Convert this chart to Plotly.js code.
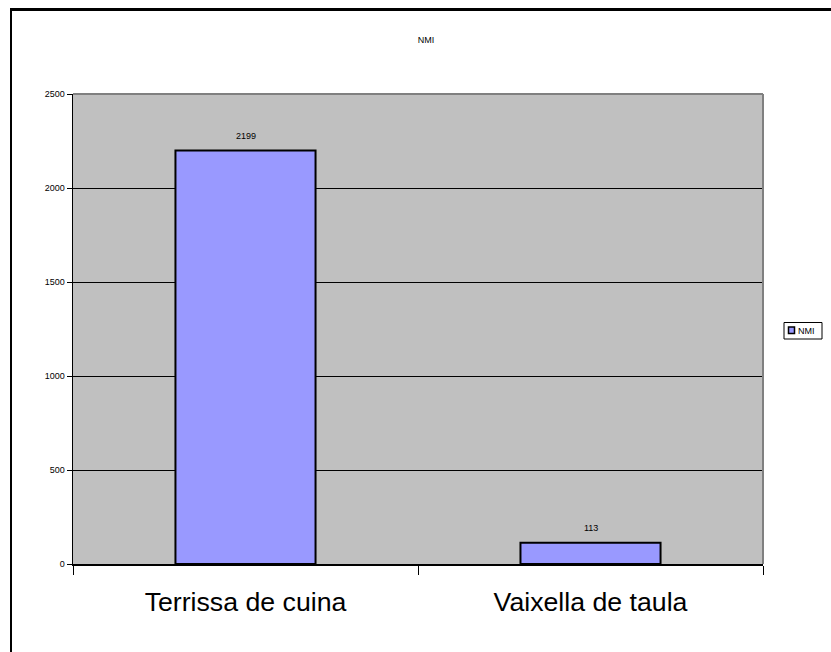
<!DOCTYPE html>
<html>
<head>
<meta charset="utf-8">
<script src="https://cdn.plot.ly/plotly-3.0.1.min.js"></script>
<style>
  html, body { margin: 0; padding: 0; background: #fff; }
  #chart { width: 831px; height: 652px; position: relative; }
  #frame { position: absolute; left: 10px; top: 8px; width: 900px; height: 800px;
           border-left: 2px solid #000; border-top: 3px solid #000; pointer-events: none; }
  #wrap { position: relative; width: 831px; height: 652px; overflow: hidden; }
</style>
</head>
<body>
<div id="wrap">
  <div id="chart"></div>
  <div id="frame"></div>
</div>
<script>
const categories = ["Terrissa de cuina", "Vaixella de taula"];
const seriesName = "NMI";
const values = [2199, 113];
const chartTitle = "NMI";
const yTickVals = [0, 500, 1000, 1500, 2000, 2500];

const FONT = "Liberation Sans, Arial, sans-serif";

const trace = {
  type: "bar",
  x: categories,
  y: values,
  name: seriesName,
  width: 0.406,
  marker: { color: "#9999FF", line: { color: "#000000", width: 2 } },
  showlegend: false,
  hoverinfo: "x+y"
};

const labelAnnotations = categories.map((c, i) => ({
  x: c, y: values[i], xref: "x", yref: "y",
  text: String(values[i]), showarrow: false,
  yanchor: "middle", yshift: 15,
  font: { family: FONT, size: 9, color: "#000" }
}));

const layout = {
  width: 831, height: 652,
  margin: { l: 73, r: 68, t: 94, b: 88 },
  paper_bgcolor: "#FFFFFF",
  plot_bgcolor: "#C0C0C0",
  title: {
    text: chartTitle,
    font: { family: FONT, size: 9, color: "#000" },
    xref: "container", x: 0.5126, xanchor: "center",
    yref: "container", y: 1 - 40 / 652, yanchor: "middle"
  },
  xaxis: {
    type: "category",
    tickson: "boundaries",
    ticks: "outside", ticklen: 9, tickcolor: "#000", tickwidth: 1,
    showline: true, linecolor: "#000", linewidth: 1.5,
    showgrid: false, zeroline: false,
    tickfont: { family: FONT, size: 26.7, color: "#000" },
    ticklabelstandoff: 13,
    range: [-0.5, 1.5]
  },
  yaxis: {
    range: [0, 2500],
    tickvals: yTickVals,
    ticktext: yTickVals.map(String),
    ticks: "outside", ticklen: 5, tickcolor: "#000", tickwidth: 1,
    showline: true, linecolor: "#000", linewidth: 1.5,
    showgrid: true, gridcolor: "#000", gridwidth: 1,
    zeroline: false,
    tickfont: { family: FONT, size: 9, color: "#000" }
  },
  shapes: [
    { type: "line", xref: "paper", yref: "paper", x0: 0, x1: 1, y0: 1, y1: 1,
      line: { color: "#808080", width: 2 }, layer: "above" },
    { type: "line", xref: "paper", yref: "paper", x0: 1, x1: 1, y0: 0, y1: 1,
      line: { color: "#808080", width: 2 }, layer: "above" },
    // legend box
    { type: "rect", xref: "paper", yref: "paper",
      x0: (784 - 73) / 690, x1: (822 - 73) / 690,
      y0: (564 - 339) / 470, y1: (564 - 322.5) / 470,
      line: { color: "#000", width: 1 }, fillcolor: "#FFFFFF", layer: "above" },
    // legend key
    { type: "rect", xref: "paper", yref: "paper",
      x0: (788.5 - 73) / 690, x1: (794.5 - 73) / 690,
      y0: (564 - 333.5) / 470, y1: (564 - 327) / 470,
      line: { color: "#000", width: 1.5 }, fillcolor: "#9999FF", layer: "above" }
  ],
  annotations: labelAnnotations.concat([
    { xref: "paper", yref: "paper",
      x: (796 - 73) / 690, y: (564 - 330.5) / 470,
      xanchor: "left", yanchor: "middle",
      text: seriesName, showarrow: false,
      font: { family: FONT, size: 9, color: "#000" } }
  ])
};

Plotly.newPlot("chart", [trace], layout, { displayModeBar: false, staticPlot: true });
</script>
</body>
</html>
